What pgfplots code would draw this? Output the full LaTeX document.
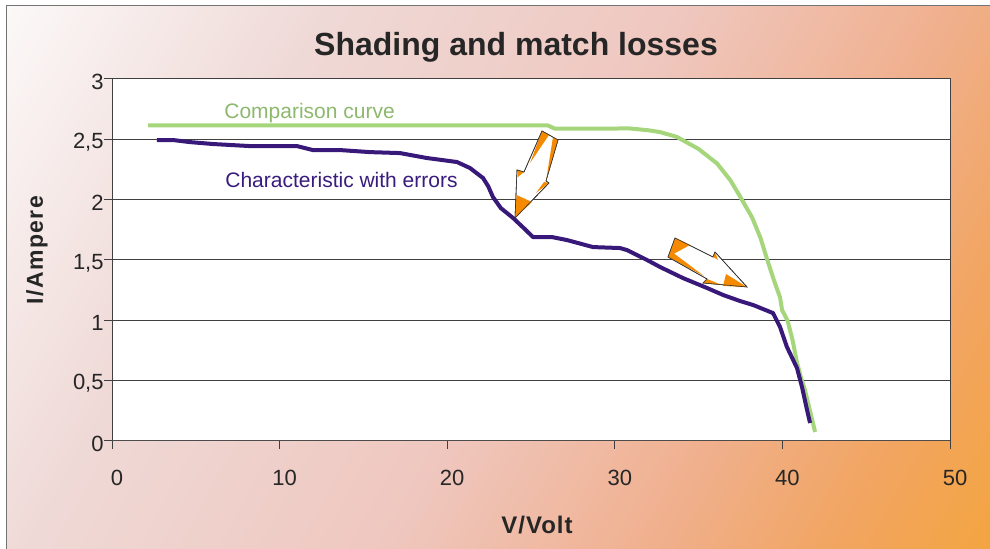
\documentclass[border=0pt]{standalone}
\usepackage{fontspec}
\setmainfont{Liberation Sans}
\usepackage{pgfplots}
\pgfplotsset{compat=1.18}
\definecolor{bg0}{HTML}{FDFCFC}
\definecolor{bg1}{HTML}{EFD9D6}
\definecolor{bg2}{HTML}{EFC7BF}
\definecolor{bg3}{HTML}{F0B08E}
\definecolor{bg4}{HTML}{F2A560}
\definecolor{bg5}{HTML}{F4A53A}
\definecolor{cgreen}{HTML}{A6D67C}
\definecolor{cpurple}{HTML}{381878}
\definecolor{lgreen}{HTML}{8DB96E}
\definecolor{lpurple}{HTML}{3A1C7E}
\definecolor{arrorange}{HTML}{F58A00}
\pgfdeclarehorizontalshading{bgshade}{100bp}{color(0bp)=(bg0); color(14bp)=(bg0); color(33bp)=(bg1); color(52bp)=(bg2); color(66bp)=(bg3); color(76bp)=(bg4); color(86bp)=(bg5); color(100bp)=(bg5)}
\begin{document}
\begin{tikzpicture}
\begin{scope}[yshift=274.5pt, x=0.5pt, y=-0.5pt]
\useasboundingbox (0,0) rectangle (990,549);
\fill[white] (0,0) rectangle (990,549);
\shade[shading=bgshade, shading angle=-29] (6,6) rectangle (990,549);
\draw[black!55, line width=0.5pt] (6,549) -- (6,6) -- (990,6);
\end{scope}
\begin{axis}[
  at={(56pt,54pt)}, anchor=south west,
  scale only axis, width=419pt, height=181pt,
  xmin=0, xmax=50, ymin=0, ymax=3,
  axis background/.style={fill=white},
  axis line style={draw=black!75, line width=0.5pt},
  ymajorgrids, grid style={draw=black!75, line width=0.5pt},
  xtick={0,10,20,30,40,50}, xticklabels={0,10,20,30,40,50},
  ytick={0,0.5,1,1.5,2,2.5,3}, yticklabels={0,{0,5},1,{1,5},2,{2,5},3},
  tick align=outside, major tick length=4pt, tick pos=left,
  tick style={draw=black!75, line width=0.5pt},
  /pgf/number format/assume math mode=true,
  ticklabel style={font=\fontsize{11}{13}\selectfont, text=black!85},
  xticklabel style={anchor=north, inner sep=0pt, yshift=-10.5pt, xshift=2.5pt},
  yticklabel style={anchor=east, inner sep=0pt, yshift=-1.5pt},
]
\addplot[cgreen, line width=2pt, line join=round] coordinates {
(2.15,2.615) (26.0,2.615) (26.43,2.588) (30.9,2.590) (32.0,2.575) (32.7,2.56) (33.7,2.52)
(35.0,2.42) (36.1,2.30) (36.9,2.16) (37.5,2.02) (38.2,1.85) (38.7,1.68) (39.1,1.50) (39.5,1.33) (39.86,1.19) (39.98,1.085)
(40.3,1.0) (40.6,0.84) (40.87,0.65) (41.1,0.53) (41.35,0.42) (41.95,0.075)
};
\addplot[cpurple, line width=2pt, line join=round] coordinates {
(2.68,2.494) (3.64,2.494) (4.65,2.477) (6.03,2.461) (8.23,2.444) (11.04,2.444)
(11.99,2.411) (13.60,2.411) (15.39,2.394) (17.18,2.386) (18.79,2.345)
(20.58,2.312) (21.36,2.262) (22.14,2.179) (22.45,2.11) (22.73,2.022) (23.2,1.93) (23.93,1.848)
(24.6,1.76) (25.12,1.690) (26.25,1.690) (27.15,1.665) (28.70,1.607) (30.31,1.599)
(30.73,1.582) (31.92,1.500) (32.70,1.442) (34.07,1.350) (35.50,1.268)
(36.46,1.210) (37.47,1.160) (38.25,1.127) (39.44,1.060) (39.86,0.944)
(40.27,0.779) (40.87,0.605) (41.17,0.447) (41.47,0.257) (41.65,0.149)
};
\draw[line width=1pt, draw=black!70] (rel axis cs:0,0) -- (rel axis cs:1,0);
\end{axis}
\begin{scope}[yshift=274.5pt, x=0.5pt, y=-0.5pt]
\node[font=\fontsize{16}{19}\selectfont\bfseries, text=black!85] at (516,47) {Shading and match losses};
\node[rotate=90, font=\fontsize{11.5}{13}\selectfont\bfseries\addfontfeatures{LetterSpace=6}, text=black!85] at (37,250) {I/Ampere};
\node[font=\fontsize{12}{14}\selectfont\bfseries\addfontfeatures{LetterSpace=4}, text=black!85] at (537,525) {V/Volt};
\node[anchor=west, inner sep=0pt, font=\fontsize{10.5}{12}\selectfont, text=lgreen] at (224,113) {Comparison curve};
\node[anchor=west, inner sep=0pt, font=\fontsize{10.5}{12}\selectfont, text=lpurple] at (225,180) {Characteristic with errors};
% arrow 1
\filldraw[fill=white, draw=black!80, line width=0.3pt, line join=miter]
  (542,131) -- (558,140) -- (546,181) -- (549,183) -- (515,218) -- (517,170) -- (524,172) -- cycle;
\fill[arrorange] (542,131) -- (549,135) -- (530,163) -- cycle;
\fill[arrorange] (553,137) -- (558,140) -- (546,181) -- cycle;
\fill[arrorange] (517,170) -- (524,172) -- (518,177) -- cycle;
\fill[arrorange] (549,183) -- (544,182) -- (536,193) -- cycle;
\fill[arrorange] (515,218) -- (516.5,195) -- (532,202) -- cycle;
\draw[draw=black!80, line width=0.3pt, line join=miter]
  (542,131) -- (558,140) -- (546,181) -- (549,183) -- (515,218) -- (517,170) -- (524,172) -- cycle;
% arrow 2
\filldraw[fill=white, draw=black!80, line width=0.3pt, line join=miter]
  (675,238) -- (713,257) -- (715,252) -- (747,287) -- (703,283) -- (707,279) -- (668,257) -- cycle;
\fill[arrorange] (675,238) -- (690,245) -- (668,257) -- cycle;
\fill[arrorange] (668,257) -- (672,252) -- (704,276) -- cycle;
\fill[arrorange] (703,283) -- (707,279) -- (722,285) -- cycle;
\fill[arrorange] (713,257) -- (715,252) -- (718,260) -- cycle;
\fill[arrorange] (747,287) -- (726,274) -- (723,286) -- cycle;
\draw[draw=black!80, line width=0.3pt, line join=miter]
  (675,238) -- (713,257) -- (715,252) -- (747,287) -- (703,283) -- (707,279) -- (668,257) -- cycle;
\end{scope}
\end{tikzpicture}
\end{document}
